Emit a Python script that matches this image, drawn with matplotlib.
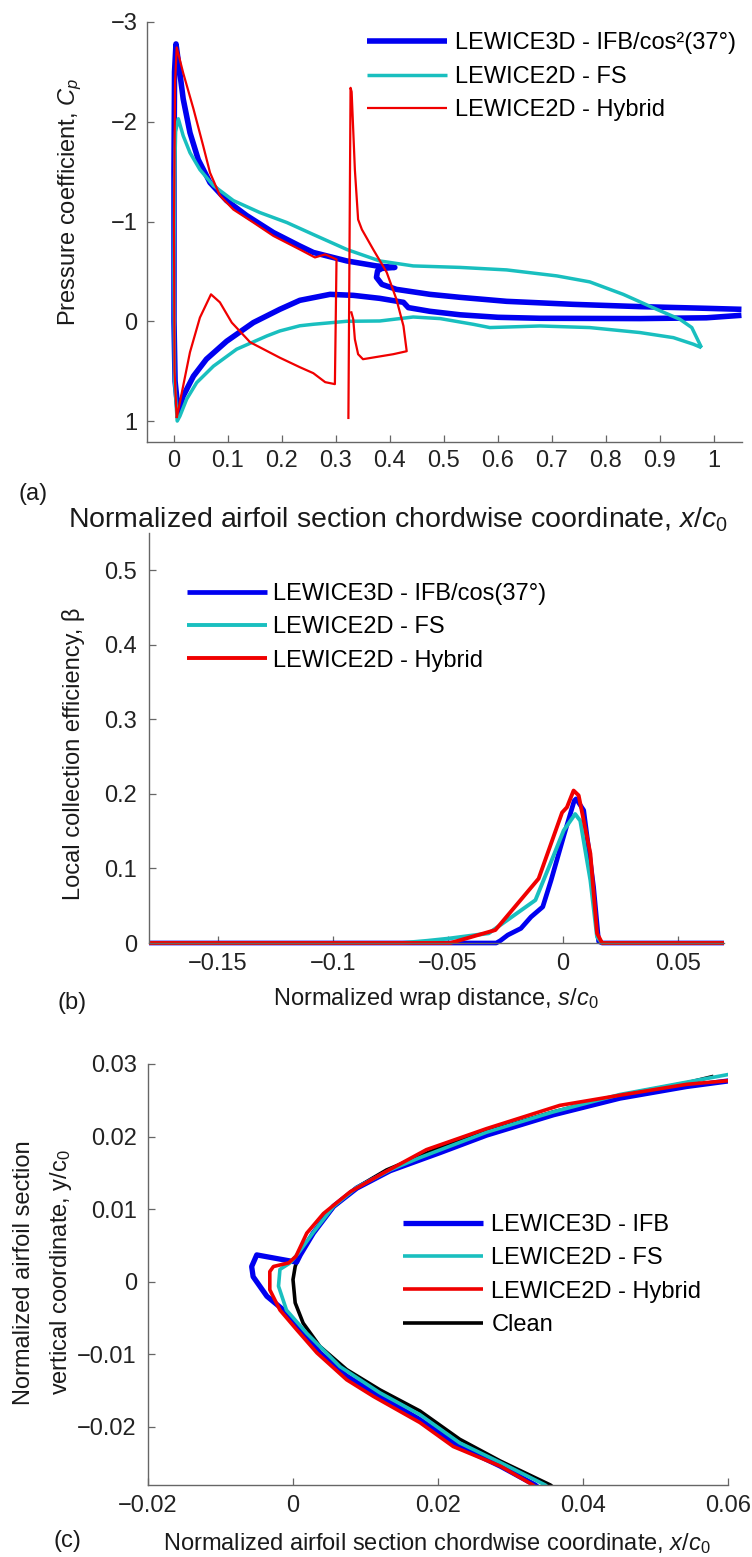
import numpy as np
import matplotlib
matplotlib.use("Agg")
import matplotlib.pyplot as plt
from matplotlib.ticker import FuncFormatter

plt.rcParams["font.family"] = ["Liberation Sans", "DejaVu Sans"]
plt.rcParams["mathtext.fontset"] = "custom"
plt.rcParams["mathtext.rm"] = "Liberation Sans"
plt.rcParams["mathtext.it"] = "Liberation Sans:italic"
plt.rcParams["font.size"] = 17

BLUE = "#0000f0"
CYAN = "#19bfbf"
RED = "#f00000"
BLACK = "#000000"
AXIS_GRAY = "#666666"
TEXT = "#1a1a1a"

# ---- (a) pressure coefficient along the chord ----
cp3d_x = [1.051, 0.986, 0.863, 0.678, 0.60, 0.53, 0.474, 0.434, 0.425, 0.381, 0.332,
          0.289, 0.233, 0.196, 0.147, 0.0975, 0.06, 0.036, 0.017, 0.008,
          0.002, 0.0, 0.0, 0.001, 0.0037,
          0.0099, 0.017, 0.0296, 0.045, 0.0667, 0.0975, 0.1346, 0.184, 0.233, 0.258,
          0.32, 0.375, 0.409,
          0.385, 0.377, 0.375, 0.385, 0.412, 0.474, 0.53, 0.616, 0.739, 0.863, 0.986, 1.051]
cp3d_cp = [-0.06, -0.035, -0.027, -0.03, -0.04, -0.065, -0.10, -0.137, -0.19, -0.23, -0.26,
           -0.27, -0.21, -0.12, 0.013, 0.20, 0.38, 0.55, 0.75, 0.92,
           0.6, 0.0, -1.5, -2.5, -2.78,
           -2.53, -2.23, -1.89, -1.62, -1.39, -1.21, -1.06, -0.89, -0.755, -0.69,
           -0.605, -0.555, -0.54,
           -0.53, -0.505, -0.44, -0.37, -0.32, -0.27, -0.24, -0.20, -0.17, -0.147, -0.13, -0.12]

cpfs_x = [0.977, 0.962, 0.925, 0.863, 0.77, 0.678, 0.585, 0.554, 0.493, 0.443, 0.381,
          0.32, 0.258, 0.233, 0.196, 0.172, 0.116, 0.073, 0.042, 0.0235, 0.011, 0.006,
          0.001, 0.0, 0.001, 0.003, 0.008,
          0.017, 0.0296, 0.048, 0.073, 0.11, 0.159, 0.209, 0.258, 0.32, 0.381, 0.443,
          0.53, 0.616, 0.709, 0.77, 0.832, 0.894, 0.937, 0.959, 0.977]
cpfs_cp = [0.264, 0.23, 0.164, 0.113, 0.063, 0.047, 0.063, 0.03, -0.027, -0.043, -0.003,
           0.0, 0.03, 0.045, 0.097, 0.147, 0.28, 0.45, 0.615, 0.78, 0.95, 1.0,
           0.6, -0.5, -1.4, -1.9, -2.03,
           -1.86, -1.69, -1.52, -1.36, -1.21, -1.09, -0.99, -0.87, -0.72, -0.605, -0.555,
           -0.54, -0.515, -0.455, -0.395, -0.27, -0.12, -0.02, 0.063, 0.264]

# hybrid result: closed loop, then the detached spike (nan splits the two pieces)
cphy_x = [0.005, 0.001, 0.0, 0.002, 0.005,
          0.017, 0.036, 0.054, 0.0667, 0.085, 0.11, 0.147, 0.184, 0.233, 0.261, 0.28, 0.301,
          0.298, 0.28, 0.258, 0.233, 0.196, 0.141, 0.107, 0.085, 0.0685, 0.048, 0.0296, 0.005,
          np.nan,
          0.323, 0.327, 0.329, 0.335, 0.341, 0.348, 0.369, 0.394, 0.412, 0.425, 0.431,
          0.406, 0.35, 0.341, 0.335, 0.332, 0.328]
cphy_cp = [0.97, 0.5, -1.0, -2.4, -2.745,
           -2.49, -2.13, -1.76, -1.49, -1.26, -1.12, -0.99, -0.856, -0.72, -0.64, -0.67, -0.62,
           0.63, 0.61, 0.52, 0.46, 0.365, 0.21, 0.013, -0.19, -0.27, -0.037, 0.31, 0.97,
           np.nan,
           0.98, -2.34, -2.3, -1.52, -1.02, -0.92, -0.72, -0.49, -0.22, 0.047, 0.30,
           0.33, 0.38, 0.33, 0.18, -0.02, -0.10]

# ---- (b) collection efficiency vs wrap distance ----
beta3d_s = [-0.18, -0.029, -0.0273, -0.024, -0.0183, -0.0139, -0.0088, -0.0052, 0.0006,
            0.0049, 0.0057, 0.009, 0.0133, 0.0155, 0.017, 0.07]
beta3d_b = [0.0, 0.0, 0.003, 0.0107, 0.0196, 0.035, 0.0485, 0.084, 0.1465,
            0.191, 0.1934, 0.178, 0.075, 0.002, 0.0, 0.0]

betafs_s = [-0.18, -0.07, -0.059, -0.0497, -0.0323, -0.012, -0.0055, 0.0003, 0.0053,
            0.0075, 0.0119, 0.0148, 0.017, 0.07]
betafs_b = [0.0, 0.0, 0.003, 0.006, 0.013, 0.0575, 0.1065, 0.151, 0.173,
            0.164, 0.084, 0.008, 0.0, 0.0]

betahy_s = [-0.18, -0.049, -0.0294, -0.0106, -0.0004, 0.0017, 0.0046, 0.0068, 0.0119,
            0.0148, 0.017, 0.07]
betahy_b = [0.0, 0.0, 0.0174, 0.0864, 0.175, 0.182, 0.2045, 0.198, 0.12,
            0.013, 0.0, 0.0]

# ---- (c) ice shapes near the leading edge ----
ice3d_x = [0.0603, 0.0543, 0.0451, 0.0359, 0.0267, 0.0203, 0.0134, 0.0088, 0.0056, 0.0028,
           0.0010, 0.0005, -0.005, -0.0057, -0.0055, -0.0036, -0.0013,
           0.001, 0.0037, 0.0074, 0.012, 0.0175, 0.023, 0.0286, 0.0334, 0.034]
ice3d_y = [0.0277, 0.0269, 0.0253, 0.023, 0.0202, 0.0178, 0.0153, 0.0129, 0.0104, 0.0067,
           0.0037, 0.0027, 0.0037, 0.0021, 0.0007, -0.002, -0.0039,
           -0.0066, -0.0098, -0.013, -0.0158, -0.019, -0.0227, -0.0254, -0.028, -0.0285]

icefs_x = [0.0603, 0.0543, 0.0451, 0.0359, 0.0267, 0.0175, 0.0134, 0.0088, 0.0056, 0.0028,
           0.0007, -0.0004, -0.0018, -0.002, -0.0009,
           0.0019, 0.0065, 0.012, 0.0175, 0.023, 0.0286, 0.0348, 0.0354]
icefs_y = [0.0286, 0.0275, 0.0258, 0.0234, 0.0206, 0.0171, 0.0154, 0.013, 0.0104, 0.0068,
           0.0039, 0.0026, 0.0017, -0.0006, -0.0039,
           -0.0071, -0.0117, -0.0153, -0.0183, -0.0222, -0.0249, -0.028, -0.0285]

icehy_x = [0.06, 0.0543, 0.0451, 0.0368, 0.0267, 0.0184, 0.0125, 0.0079, 0.0042, 0.0019,
           0.0004, -0.0006, -0.0027, -0.0032, -0.0032, -0.0018,
           0.0005, 0.0033, 0.0074, 0.0111, 0.0175, 0.0221, 0.0286, 0.0331, 0.0337]
icehy_y = [0.0277, 0.0272, 0.0257, 0.0243, 0.0211, 0.0182, 0.015, 0.0124, 0.0094, 0.0067,
           0.0035, 0.0026, 0.0021, 0.0014, -0.0011, -0.0039,
           -0.0066, -0.0098, -0.0135, -0.0158, -0.0194, -0.0227, -0.0254, -0.028, -0.0285]

clean_x = [0.058, 0.0543, 0.0451, 0.0359, 0.0267, 0.0203, 0.0129, 0.0088, 0.0056, 0.0028,
           0.001, 0.0003, 0.0, 0.0003, 0.0014, 0.0037, 0.0074, 0.012, 0.0175, 0.023,
           0.0286, 0.0355, 0.036]
clean_y = [0.0283, 0.0274, 0.0257, 0.0234, 0.0207, 0.0185, 0.0154, 0.013, 0.0103, 0.0067,
           0.004, 0.0021, 0.0003, -0.0029, -0.0057, -0.0089, -0.0121, -0.0149, -0.0178, -0.0217,
           -0.0247, -0.028, -0.0284]

W, H = 752, 1557
fig = plt.figure(figsize=(W / 100, H / 100), dpi=100)


def axes_px(left, top, right, bottom):
    return fig.add_axes([left / W, 1 - bottom / H, (right - left) / W, (bottom - top) / H])


def text_px(x, y, s, rot=0, size=17, **kw):
    fig.text(x / W, 1 - y / H, s, ha="center", va="baseline", rotation=rot,
             rotation_mode="anchor", color=TEXT, fontsize=size, **kw)


def tick_fmt(v, pos):
    return ("%g" % round(v, 6)).replace("-", "\u2212")


def style(ax, xpad, ypad):
    for side in ("top", "right"):
        ax.spines[side].set_visible(False)
    for side in ("left", "bottom"):
        ax.spines[side].set_color(AXIS_GRAY)
        ax.spines[side].set_linewidth(1.0)
    ax.tick_params(direction="in", length=5, width=0.9, color=AXIS_GRAY,
                   labelcolor="#222222", labelsize=17)
    ax.tick_params(axis="x", pad=xpad)
    ax.tick_params(axis="y", pad=ypad)
    ax.xaxis.set_major_formatter(FuncFormatter(tick_fmt))
    ax.yaxis.set_major_formatter(FuncFormatter(tick_fmt))


def legend_px(ax, x, y, pad, handles=None, labels=None):
    kw = dict(loc="upper left", bbox_to_anchor=(x / W, 1 - y / H),
              bbox_transform=fig.transFigure, frameon=False, borderpad=0,
              borderaxespad=0, handlelength=3.4, handletextpad=pad,
              labelspacing=0.48, fontsize=17)
    if handles is None:
        ax.legend(**kw)
    else:
        ax.legend(handles, labels, **kw)


line_kw = dict(solid_capstyle="butt", solid_joinstyle="round")

# (a)
ax1 = axes_px(147, 22, 742, 442)
ax1.plot(cp3d_x, cp3d_cp, color=BLUE, lw=4.0, label="LEWICE3D - IFB/cos\u00b2(37\u00b0)", **line_kw)
ax1.plot(cpfs_x, cpfs_cp, color=CYAN, lw=2.5, label="LEWICE2D - FS", **line_kw)
ax1.plot(cphy_x, cphy_cp, color=RED, lw=1.6, label="LEWICE2D - Hybrid", **line_kw)
ax1.set_xlim(-0.05, 1.052)
ax1.set_ylim(1.21, -3)
ax1.set_xticks(np.arange(0, 1.01, 0.1))
ax1.set_yticks([-3, -2, -1, 0, 1])
style(ax1, 6, 7)
legend_px(ax1, 367, 32.5, 0.34)
text_px(75, 202, "Pressure coefficient, $C_p$", rot=90)
text_px(398, 528, "Normalized airfoil section chordwise coordinate, $x/c_0$", size=20.5)
text_px(33, 500, "(a)")

# (b)
ax2 = axes_px(149, 533, 724, 943)
ax2.plot(beta3d_s, beta3d_b, color=BLUE, lw=3.4, label="LEWICE3D - IFB/cos(37\u00b0)",
         clip_on=False, **line_kw)
ax2.plot(betafs_s, betafs_b, color=CYAN, lw=2.8, label="LEWICE2D - FS", clip_on=False, **line_kw)
ax2.plot(betahy_s, betahy_b, color=RED, lw=2.8, label="LEWICE2D - Hybrid", clip_on=False, **line_kw)
ax2.set_xlim(-0.18, 0.07)
ax2.set_ylim(0, 0.55)
ax2.set_xticks([-0.15, -0.1, -0.05, 0, 0.05])
ax2.set_yticks(np.arange(0, 0.51, 0.1))
style(ax2, 7.5, 8.5)
legend_px(ax2, 187, 583, 0.25)
text_px(80, 754, "Local collection efficiency, \u03b2", rot=90)
text_px(436, 1005, "Normalized wrap distance, $s/c_0$")
text_px(72, 1009, "(b)")

# (c)
ax3 = axes_px(148, 1064, 728, 1485)
ax3.plot(clean_x, clean_y, color=BLACK, lw=2.6, zorder=1.5, label="Clean", **line_kw)
ax3.plot(ice3d_x, ice3d_y, color=BLUE, lw=3.8, zorder=2, label="LEWICE3D - IFB", **line_kw)
ax3.plot(icefs_x, icefs_y, color=CYAN, lw=2.6, zorder=2.1, label="LEWICE2D - FS", **line_kw)
ax3.plot(icehy_x, icehy_y, color=RED, lw=2.6, zorder=2.2, label="LEWICE2D - Hybrid", **line_kw)
ax3.set_xlim(-0.02, 0.06)
ax3.set_ylim(-0.028, 0.03)
ax3.set_xticks([-0.02, 0, 0.02, 0.04, 0.06])
ax3.set_yticks([-0.02, -0.01, 0, 0.01, 0.02, 0.03])
style(ax3, 7.5, 8)
h, l = ax3.get_legend_handles_labels()
order = [1, 2, 3, 0]
legend_px(ax3, 403, 1214, 0.34, [h[i] for i in order], [l[i] for i in order])
text_px(30.5, 1273, "Normalized airfoil section", rot=90)
text_px(67.5, 1272, "vertical coordinate, y/c$_0$", rot=90)
text_px(436.5, 1550, "Normalized airfoil section chordwise coordinate, $x/c_0$")
text_px(67, 1547, "(c)")

fig.savefig("out.png", dpi=100)
